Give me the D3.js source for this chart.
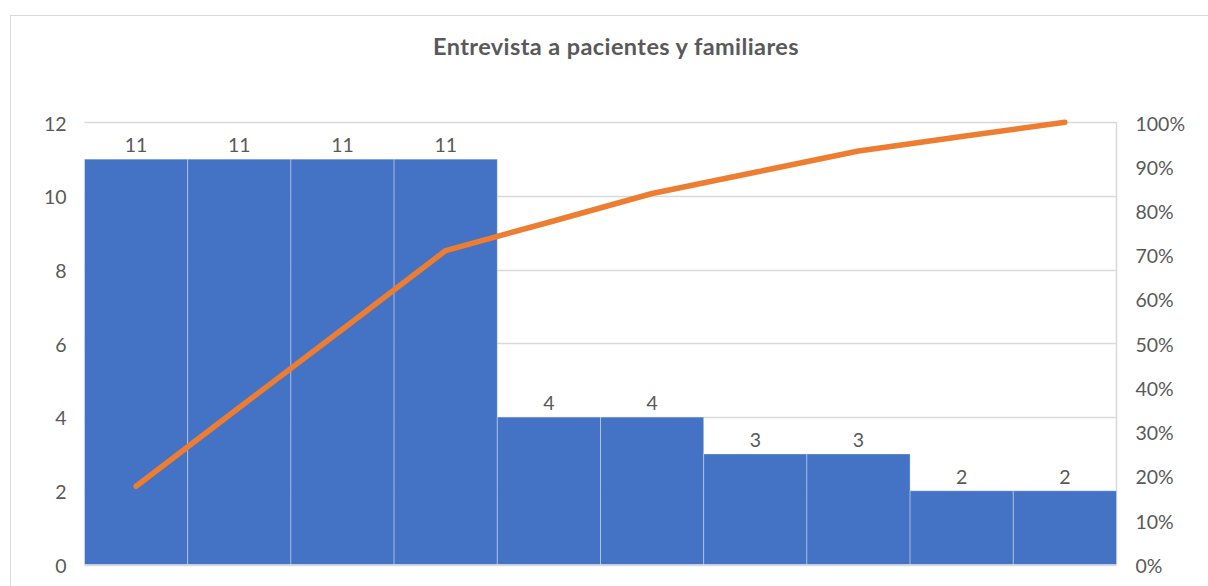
<!DOCTYPE html>
<html><head><meta charset="utf-8">
<script src="https://cdn.jsdelivr.net/npm/d3@7"></script>
<style>body{margin:0;background:#fff}</style>
</head><body>
<svg id="c" width="1208" height="586"></svg>
<script>
const title = "Entrevista a pacientes y familiares";
const categories = ["C1","C2","C3","C4","C5","C6","C7","C8","C9","C10"];
const counts = [11,11,11,11,4,4,3,3,2,2];
const cumulativePct = [17.7,35.5,53.2,71.0,77.4,83.9,88.7,93.5,96.8,100];
const leftTicks = [0,2,4,6,8,10,12];
const rightTicks = [0,10,20,30,40,50,60,70,80,90,100];

const svg = d3.select("#c");
const m = {left:84.5, right:1116.5, top:122.3, bottom:564.5};
const txt = "#595959", grid = "#d9d9d9";

// outer frame
svg.append("rect").attr("x",10.5).attr("y",15.5).attr("width",1210).attr("height",600)
  .attr("fill","#fff").attr("stroke",grid);

svg.append("text").attr("x",616).attr("y",55).attr("text-anchor","middle")
  .attr("font-family","Lato").attr("font-weight","bold").attr("font-size",23.5)
  .attr("letter-spacing",0.4)
  .attr("fill",txt).text(title);

const x = d3.scaleBand().domain(categories).range([m.left,m.right]).padding(0);
const y = d3.scaleLinear().domain([0,12]).range([m.bottom,m.top]);
const y2 = d3.scaleLinear().domain([0,100]).range([m.bottom,m.top]);

// gridlines
svg.append("g").selectAll("line").data(leftTicks).join("line")
  .attr("x1",m.left).attr("x2",m.right)
  .attr("y1",d=>Math.round(y(d))+0.5).attr("y2",d=>Math.round(y(d))+0.5)
  .attr("stroke",grid).attr("stroke-width",1.5);
svg.append("line").attr("x1",m.right).attr("x2",m.right).attr("y1",m.top).attr("y2",m.bottom)
  .attr("stroke",grid).attr("stroke-width",1.5);

// bars
svg.append("g").selectAll("rect").data(counts).join("rect")
  .attr("x",(d,i)=>x(categories[i])).attr("width",x.bandwidth())
  .attr("y",d=>y(d)).attr("height",d=>y(0)-y(d))
  .attr("fill","#4472C4").attr("stroke","rgba(255,255,255,0.35)").attr("stroke-width",1);

// data labels
svg.append("g").selectAll("text").data(counts).join("text")
  .attr("x",(d,i)=>x(categories[i])+x.bandwidth()/2).attr("y",d=>y(d)-7)
  .attr("text-anchor","middle").attr("font-family","Lato").attr("font-size",19.5)
  .attr("fill",txt).text(d=>d);

// left axis
const la = d3.axisLeft(y).tickValues(leftTicks).tickSize(0).tickPadding(18);
svg.append("g").attr("transform",`translate(${m.left},0)`).call(la)
  .call(g=>g.select(".domain").remove())
  .call(g=>g.selectAll("text").attr("font-family","Lato").attr("font-size",19.5).attr("fill",txt).attr("dy","0.4em"));

// right axis
const ra = d3.axisRight(y2).tickValues(rightTicks).tickSize(0).tickPadding(19).tickFormat(d=>d+"%");
svg.append("g").attr("transform",`translate(${m.right},0)`).call(ra)
  .call(g=>g.select(".domain").remove())
  .call(g=>g.selectAll("text").attr("font-family","Lato").attr("font-size",19.5).attr("fill",txt).attr("dy","0.4em"));

// line
const line = d3.line().x((d,i)=>x(categories[i])+x.bandwidth()/2).y(d=>y2(d));
svg.append("path").datum(cumulativePct).attr("d",line).attr("fill","none")
  .attr("stroke","#ED7D31").attr("stroke-width",5.5).attr("stroke-linecap","round").attr("stroke-linejoin","round");
</script>
</body></html>
